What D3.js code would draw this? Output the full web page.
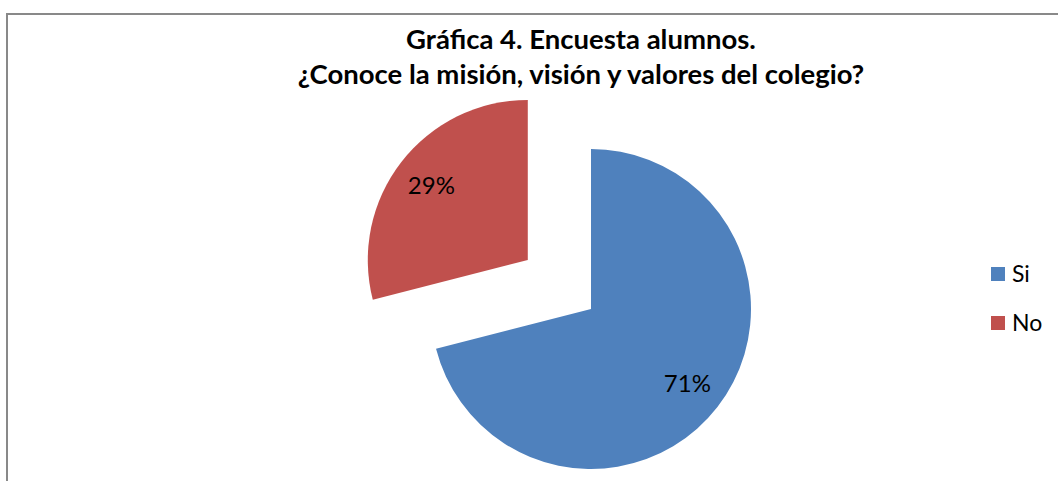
<!DOCTYPE html>
<html>
<head>
<meta charset="utf-8">
<script src="https://cdn.jsdelivr.net/npm/d3@7"></script>
<style>
  html, body { margin: 0; padding: 0; background: #fff; }
  svg { display: block; }
</style>
</head>
<body>
<svg id="chart" width="1058" height="481"></svg>
<script>
const categories = ["Si", "No"];
const values = [71, 29];
const labels = ["71%", "29%"];
const colors = ["#4F81BD", "#C0504D"];
const titleLines = ["Gráfica 4. Encuesta alumnos.", "¿Conoce la misión, visión y valores del colegio?"];

const svg = d3.select("#chart");
const W = 1058, H = 481;

// chart border
svg.append("rect")
  .attr("x", 7).attr("y", 14)
  .attr("width", W + 10).attr("height", H + 10)
  .attr("fill", "#fff")
  .attr("stroke", "#898989").attr("stroke-width", 2);

// title
const title = svg.append("text")
  .attr("text-anchor", "middle")
  .attr("font-family", "Lato, 'Open Sans', sans-serif")
  .attr("font-weight", "bold")
  .attr("font-size", 27.5)
  .attr("fill", "#000");
title.selectAll("tspan").data(titleLines).join("tspan")
  .attr("x", 581)
  .attr("y", (d, i) => 49 + i * 35)
  .text(d => d);

// pie
const cx = 591, cy = 309, R = 160, explode = 80, labelR = 122;
const color = d3.scaleOrdinal().domain(categories).range(colors);
const pie = d3.pie().sort(null).value(d => d.value).startAngle(0).endAngle(2 * Math.PI);
const data = categories.map((c, i) => ({ cat: c, value: values[i], label: labels[i], explode: i === 1 ? explode : 0 }));
const arcs = pie(data);
const arc = d3.arc().innerRadius(0).outerRadius(R);
const labelArc = d3.arc().innerRadius(labelR).outerRadius(labelR);

const g = svg.append("g").attr("transform", `translate(${cx},${cy})`);
const slice = g.selectAll("g.slice").data(arcs).join("g")
  .attr("class", "slice")
  .attr("transform", d => {
    const a = (d.startAngle + d.endAngle) / 2;
    const e = d.data.explode;
    return `translate(${e * Math.sin(a)},${-e * Math.cos(a)})`;
  });
slice.append("path")
  .attr("d", arc)
  .attr("fill", d => color(d.data.cat));
slice.append("text")
  .attr("transform", d => `translate(${labelArc.centroid(d)})`)
  .attr("text-anchor", "middle")
  .attr("dy", "0.36em")
  .attr("font-family", "Lato, 'Open Sans', sans-serif")
  .attr("font-size", 24)
  .attr("fill", "#000")
  .text(d => d.data.label);

// legend
const legend = svg.append("g").attr("transform", "translate(991,267)");
const item = legend.selectAll("g").data(categories).join("g")
  .attr("transform", (d, i) => `translate(0,${i * 49})`);
item.append("rect")
  .attr("width", 14).attr("height", 14)
  .attr("fill", d => color(d));
item.append("text")
  .attr("x", 21).attr("y", 7)
  .attr("dy", "0.36em")
  .attr("font-family", "Lato, 'Open Sans', sans-serif")
  .attr("font-size", 23)
  .attr("fill", "#000")
  .text(d => d);
</script>
</body>
</html>
